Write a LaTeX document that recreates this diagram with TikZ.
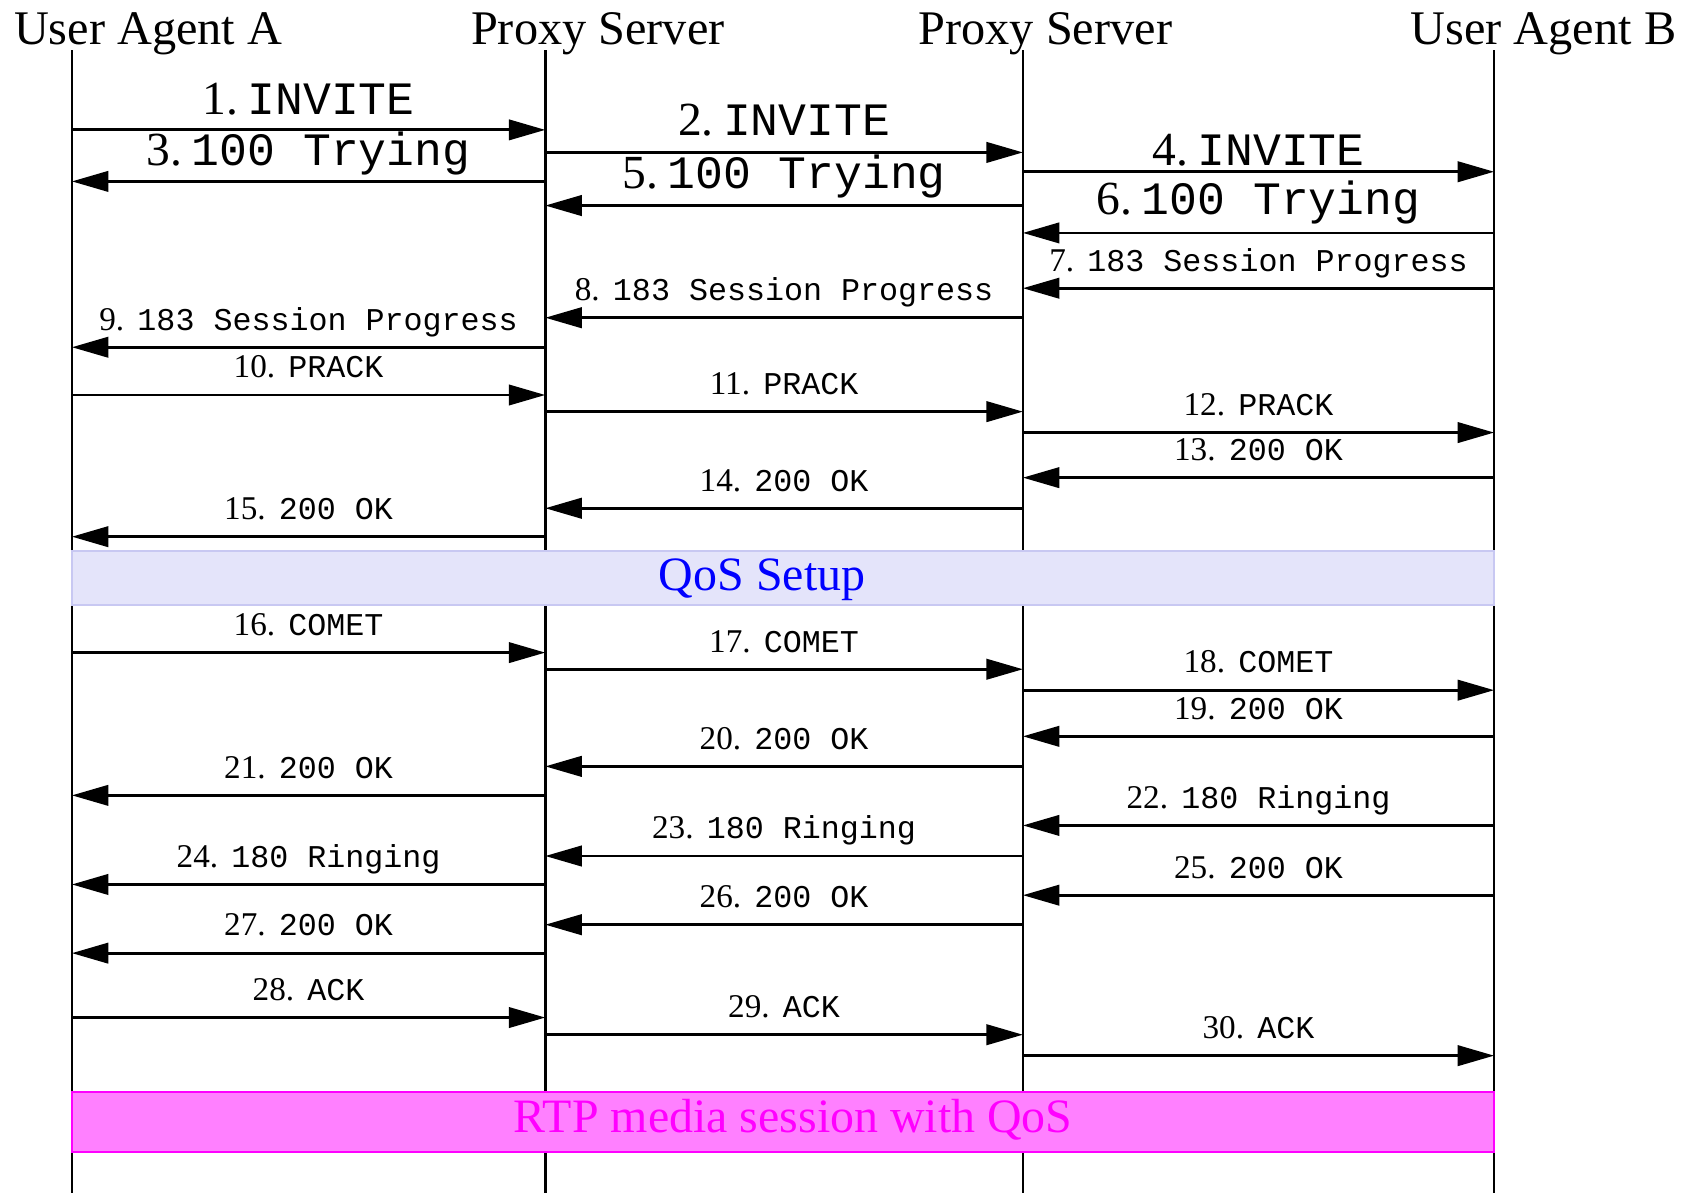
\documentclass[tikz,border=0pt]{standalone}
\usepackage{fontspec}
\setmainfont{Liberation Serif}
\setmonofont{Liberation Mono}
\usetikzlibrary{arrows.meta}
\definecolor{qosfill}{RGB}{228,228,250}
\definecolor{qosline}{RGB}{200,200,242}
\definecolor{rtpfill}{RGB}{255,128,255}
\definecolor{rtpline}{RGB}{255,0,255}
\newcommand{\bignum}[2]{{\rmfamily\fontsize{12.6}{14}\selectfont #1.}\hspace{2.5pt}#2}
\newcommand{\smallnum}[2]{{\rmfamily\fontsize{8.8}{10}\selectfont #1.}\hspace{3.5pt}#2}

\begin{document}
\begin{tikzpicture}[>={Triangle[length=3.4mm,width=1.9mm]},
  head/.style={font=\fontsize{12.8}{15}\selectfont,anchor=base,inner sep=0pt},
  life/.style={line width=0.7pt},
  msg/.style={->,line width=0.75pt},
  biglbl/.style={midway,anchor=base,inner sep=0pt,font=\fontsize{12.3}{14}\ttfamily},
  smalllbl/.style={midway,anchor=base,inner sep=0pt,yshift=1.6mm,font=\fontsize{8.4}{10}\ttfamily},
  bandtxt/.style={font=\fontsize{12.7}{15}\selectfont,anchor=base,inner sep=0pt}]
\useasboundingbox (0,0) rectangle (15.68,-11.11);
% participants
\node[head] (ha) at (1.38,-0.41) {User Agent A};
\node[head] (hp1) at (5.57,-0.41) {Proxy Server};
\node[head] (hp2) at (9.74,-0.41) {Proxy Server};
\node[head] (hb) at (14.38,-0.41) {User Agent B};
\coordinate (A) at (0.67,-0.47); \coordinate (P1) at (5.08,-0.47);
\coordinate (P2) at (9.53,-0.47); \coordinate (B) at (13.92,-0.47);
\foreach \p in {A,P1,P2,B} {
  \coordinate (\p end) at (\p |- 0,-11.11);
  \draw[life] (\p) -- (\p end);
}
% bands
\draw[line width=0.5pt,draw=qosline,fill=qosfill] (A |- 0,-5.13) rectangle (B |- 0,-5.64);
\node[bandtxt,text=blue] (qos) at (7.10,-5.50) {QoS Setup};
\draw[line width=0.5pt,draw=rtpline,fill=rtpfill] (A |- 0,-10.17) rectangle (B |- 0,-10.73);
\node[bandtxt,text=rtpline] (rtp) at (7.39,-10.55) {RTP media session with QoS};
% INVITE / Trying
\foreach \i/\y/\f/\t/\m/\d in {1/1.21/A/P1/INVITE/1.4mm, 2/1.42/P1/P2/INVITE/1.6mm,
    3/1.69/P1/A/100 Trying/1.5mm, 4/1.60/P2/B/INVITE/0.6mm,
    5/1.915/P2/P1/100 Trying/1.55mm, 6/2.17/B/P2/100 Trying/1.7mm} {
  \coordinate (s\i) at (\f |- 0,-\y); \coordinate (e\i) at (\t |- 0,-\y);
  \draw[msg] (s\i) -- node[biglbl,yshift=\d] (l\i) {\bignum{\i}{\m}} (e\i);
}
% remaining messages
\foreach \i/\y/\f/\t/\m in {7/2.685/B/P2/183 Session Progress, 8/2.96/P2/P1/183 Session Progress,
    9/3.235/P1/A/183 Session Progress, 10/3.68/A/P1/PRACK, 11/3.835/P1/P2/PRACK,
    12/4.03/P2/B/PRACK, 13/4.45/B/P2/200 OK, 14/4.735/P2/P1/200 OK, 15/5.00/P1/A/200 OK,
    16/6.08/A/P1/COMET, 17/6.235/P1/P2/COMET, 18/6.43/P2/B/COMET, 19/6.86/B/P2/200 OK,
    20/7.14/P2/P1/200 OK, 21/7.41/P1/A/200 OK, 22/7.69/B/P2/180 Ringing,
    23/7.975/P2/P1/180 Ringing, 24/8.24/P1/A/180 Ringing, 25/8.34/B/P2/200 OK,
    26/8.615/P2/P1/200 OK, 27/8.88/P1/A/200 OK, 28/9.48/A/P1/ACK, 29/9.64/P1/P2/ACK,
    30/9.835/P2/B/ACK} {
  \coordinate (s\i) at (\f |- 0,-\y); \coordinate (e\i) at (\t |- 0,-\y);
  \draw[msg] (s\i) -- node[smalllbl] (l\i) {\smallnum{\i}{\m}} (e\i);
}
\end{tikzpicture}
\end{document}
